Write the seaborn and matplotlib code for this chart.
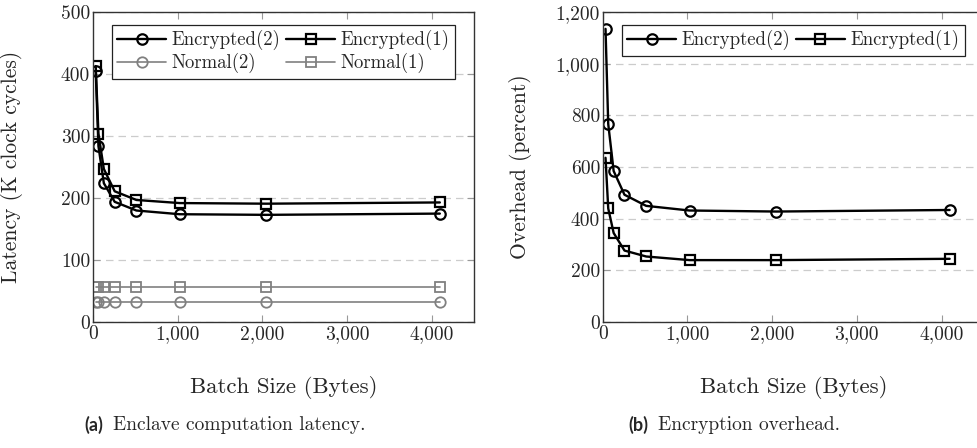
"""Enclave latency and encryption overhead vs batch size."""
import numpy as np
import pandas as pd
import matplotlib
matplotlib.use("Agg")
import matplotlib.pyplot as plt
from matplotlib.ticker import FuncFormatter
import seaborn as sns

# ── data ──────────────────────────────────────────────────────────────────────
BATCH = [32, 64, 128, 256, 512, 1024, 2048, 4096]

LAT_ENC2  = [405, 284, 224, 194, 180, 174, 173, 175]
LAT_ENC1  = [413, 304, 247, 211, 197, 192, 191, 193]
LAT_NORM2 = [32, 32, 32, 32, 32, 32, 32, 32]
LAT_NORM1 = [56, 56, 56, 56, 56, 56, 56, 56]

OVH_ENC2 = [1135, 767, 585, 493, 450, 432, 428, 434]
OVH_ENC1 = [636, 440, 345, 277, 254, 240, 240, 245]

BLACK, GRAY = "#000000", "#808080"

sns.set_style("ticks")
plt.rcParams["font.family"] = "serif"
plt.rcParams["font.serif"] = ["cmr10", "DejaVu Serif"]
plt.rcParams["mathtext.fontset"] = "cm"
plt.rcParams["axes.formatter.use_mathtext"] = True
plt.rcParams["axes.unicode_minus"] = False

fig = plt.figure(figsize=(9.77, 4.48), dpi=100)
ax1 = fig.add_axes([0.0952, 0.281, 0.39, 0.692])
ax2 = fig.add_axes([0.617, 0.281, 0.39, 0.692])

comma = FuncFormatter(lambda v, _: f"{v:,.0f}")

def draw(ax, series):
    for name, vals, col, mk, lw in series:
        df = pd.DataFrame({"Batch": BATCH, "Value": vals})
        sns.lineplot(data=df, x="Batch", y="Value", ax=ax, color=col, marker=mk,
                     markersize=7.5, markerfacecolor="none", markeredgecolor=col,
                     markeredgewidth=1.6 if col == BLACK else 1.3,
                     linewidth=lw, label=name)

draw(ax1, [
    ("Encrypted(2)", LAT_ENC2, BLACK, "o", 1.7),
    ("Encrypted(1)", LAT_ENC1, BLACK, "s", 1.7),
    ("Normal(2)",    LAT_NORM2, GRAY, "o", 1.2),
    ("Normal(1)",    LAT_NORM1, GRAY, "s", 1.2),
])
draw(ax2, [
    ("Encrypted(2)", OVH_ENC2, BLACK, "o", 1.7),
    ("Encrypted(1)", OVH_ENC1, BLACK, "s", 1.7),
])

for ax, ymax, ystep, ylab in [(ax1, 500, 100, "Latency (K clock cycles)"),
                              (ax2, 1200, 200, "Overhead (percent)")]:
    ax.set_xlim(0, 4500)
    ax.set_ylim(0, ymax)
    ax.set_xticks([0, 1000, 2000, 3000, 4000])
    ax.set_yticks(np.arange(0, ymax + 1, ystep))
    ax.xaxis.set_major_formatter(comma)
    ax.yaxis.set_major_formatter(comma)
    ax.tick_params(direction="in", length=5, width=0.8, color="#999999",
                   labelsize=14, top=True, right=True, pad=2)
    ax.grid(axis="y", color="#cccccc", linestyle=(0, (6, 4)), linewidth=0.9)
    for s in ax.spines.values():
        s.set_color("#333333"); s.set_linewidth(1.0)
    ax.set_xlabel("Batch Size (Bytes)", fontsize=16.5)
    ax.set_ylabel(ylab, fontsize=15.5)
    ax.xaxis.set_label_coords(0.5, -0.175)
    ax.yaxis.set_label_coords(-0.185, 0.5)
    # matplotlib fills legend columns first -> reorder so rows read Enc(2) Enc(1) / Norm(2) Norm(1)
    h, l = ax.get_legend_handles_labels()
    order = [0, 2, 1, 3] if len(h) == 4 else [0, 1]
    leg = ax.legend([h[i] for i in order], [l[i] for i in order],
                    loc="upper center", bbox_to_anchor=(0.5, 0.99), ncol=2,
                    fontsize=13.5, frameon=True, fancybox=False, framealpha=1,
                    edgecolor="#222222", handlelength=2.6, columnspacing=0.3,
                    handletextpad=0.3, borderpad=0.3, labelspacing=0.15)
    leg.get_frame().set_linewidth(0.9)

fig.text(0.086, 0.051, "(a)", fontsize=13, fontweight="bold",
         family=["Lato", "DejaVu Sans"], va="center")
fig.text(0.116, 0.051, "Enclave computation latency.", fontsize=14, va="center")
fig.text(0.643, 0.051, "(b)", fontsize=13, fontweight="bold",
         family=["Lato", "DejaVu Sans"], va="center")
fig.text(0.673, 0.051, "Encryption overhead.", fontsize=14, va="center")

fig.savefig("out.png", dpi=100)
